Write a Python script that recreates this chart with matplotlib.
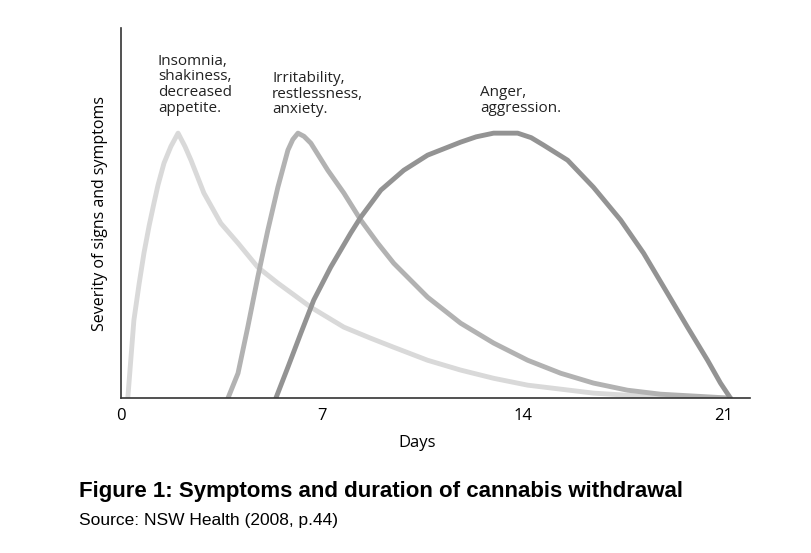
import matplotlib
matplotlib.use("Agg")
import matplotlib.pyplot as plt

# curves: x in days, y = relative severity (peak = 100)
insomnia_days = [0.24, 0.45, 0.63, 0.80, 0.98, 1.15, 1.29, 1.50, 1.74, 1.99, 2.23,
                 2.44, 2.89, 3.48, 4.08, 4.77, 5.47, 6.62, 7.77, 8.71, 9.51, 10.69,
                 11.84, 12.99, 14.18, 15.33, 16.47, 17.66, 18.81, 21.14]
insomnia_sev = [0.4, 29.4, 43.0, 54.7, 65.0, 73.6, 80.4, 88.7, 95.0, 100, 95.0,
                89.8, 77.4, 66.0, 58.5, 49.4, 43.4, 34.3, 26.8, 22.6, 19.2, 14.3,
                10.6, 7.5, 4.9, 3.4, 1.9, 1.1, 0.4, 0.0]

irrit_days = [3.73, 4.08, 4.42, 4.77, 5.12, 5.47, 5.82, 5.99, 6.17, 6.38, 6.62,
              7.21, 7.77, 8.36, 8.95, 9.51, 10.69, 11.84, 12.99, 14.18, 15.33,
              16.47, 17.66, 18.81, 19.96, 21.25]
irrit_sev = [0.0, 9.4, 26.8, 45.7, 63.4, 79.6, 93.6, 97.6, 100, 98.8, 96.2,
             86.0, 77.4, 67.2, 58.5, 50.9, 38.1, 28.3, 20.8, 14.3, 9.4,
             5.7, 3.0, 1.5, 0.8, 0.0]

anger_days = [5.40, 5.82, 6.27, 6.72, 7.31, 8.01, 8.36, 9.06, 9.86, 10.69, 11.84,
              12.38, 12.99, 13.83, 14.30, 14.73, 15.57, 16.47, 17.42, 18.22, 19.05,
              19.75, 20.45, 20.90, 21.25]
anger_sev = [0.0, 11.7, 24.5, 37.0, 49.4, 62.3, 68.3, 78.5, 86.0, 91.7, 96.6,
             98.6, 100, 100, 98.3, 95.5, 89.8, 79.6, 67.2, 54.7, 39.6,
             26.8, 14.3, 5.7, 0.0]

day_ticks = [0, 7, 14, 21]

labels = ["Insomnia,\nshakiness,\ndecreased\nappetite.",
          "Irritability,\nrestlessness,\nanxiety.",
          "Anger,\naggression."]
label_pos = [(1.29, 130), (5.27, 123.5), (12.52, 118)]

fig = plt.figure(figsize=(8.12, 5.53), dpi=100)
ax = fig.add_axes([0.149, 0.280, 0.775, 0.669])

line_kw = dict(lw=3.5, solid_capstyle="round", solid_joinstyle="round")
ax.plot(insomnia_days, insomnia_sev, color="#d9d9d9", **line_kw)
ax.plot(irrit_days, irrit_sev, color="#b2b2b2", **line_kw)
ax.plot(anger_days, anger_sev, color="#939393", **line_kw)

for txt, (x, y) in zip(labels, label_pos):
    ax.text(x, y, txt, fontsize=11, family="Open Sans", color="#222222",
            va="top", ha="left", linespacing=1.07)

ax.set_xlim(0, 21.94)
ax.set_ylim(0, 139.6)
ax.set_xticks(day_ticks)
ax.set_xticklabels([str(d) for d in day_ticks], family="Open Sans", fontsize=12)
ax.tick_params(axis="x", length=0, pad=7)
ax.set_yticks([])
for side in ["top", "right"]:
    ax.spines[side].set_visible(False)
for side in ["left", "bottom"]:
    ax.spines[side].set_color("#333333")
    ax.spines[side].set_linewidth(1.2)

ax.set_xlabel("Days", family="Open Sans", fontsize=12)
ax.xaxis.set_label_coords(0.47, -0.1)
ax.set_ylabel("Severity of signs and symptoms", family="Open Sans", fontsize=11.5)
ax.yaxis.set_label_coords(-0.021, 0.5)

fig.text(79 / 812, 1 - 492 / 553, "Figure 1: Symptoms and duration of cannabis withdrawal",
         family="Liberation Sans", fontweight="bold", fontsize=16, va="center", ha="left")
fig.text(79 / 812, 1 - 521 / 553, "Source: NSW Health (2008, p.44)",
         family="Liberation Sans", fontsize=12.5, va="center", ha="left")

fig.savefig("out.png", dpi=100)
